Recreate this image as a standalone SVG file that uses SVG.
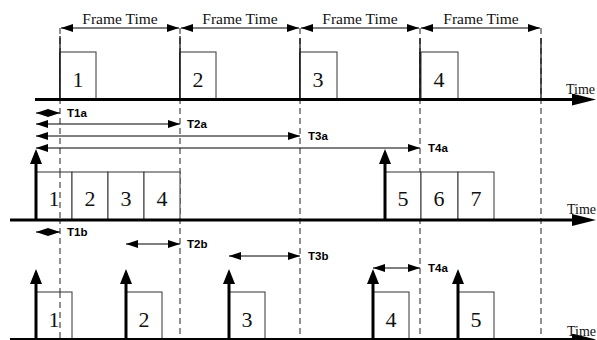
<svg xmlns="http://www.w3.org/2000/svg" width="597" height="340" viewBox="0 0 597 340">
  <defs>
    <!-- small filled arrowhead for interval dimension lines -->
    <marker id="dimHead" viewBox="0 0 12 8" refX="12" refY="4" markerWidth="12" markerHeight="8" markerUnits="userSpaceOnUse" orient="auto-start-reverse">
      <path d="M0,0 L12,4 L0,8 Z" fill="#000"/>
    </marker>
    <!-- large arrowhead for time axes -->
    <marker id="axisHead" viewBox="0 0 24 12" refX="2" refY="6" markerWidth="24" markerHeight="12" markerUnits="userSpaceOnUse" orient="auto">
      <path d="M0,0 L24,6 L0,12 Z" fill="#000"/>
    </marker>
    <!-- arrowhead for packet arrival pulses -->
    <marker id="pulseHead" viewBox="0 0 15 12" refX="9" refY="6" markerWidth="15" markerHeight="12" markerUnits="userSpaceOnUse" orient="auto">
      <path d="M0,0 L15,6 L0,12 Z" fill="#000"/>
    </marker>
  </defs>
  <style>
    .grid { stroke: #222; stroke-width: 1; stroke-dasharray: 6 4; fill: none; }
    .tick { stroke: #111; stroke-width: 1.3; fill: none; }
    .axis { stroke: #000; stroke-width: 3; fill: none; }
    .box { fill: #fff; stroke: #333; stroke-width: 1; }
    .dim { stroke: #000; stroke-width: 1; fill: none; }
    .pulse { stroke: #000; stroke-width: 3; fill: none; }
    .num { font-family: "Liberation Serif", "Times New Roman", serif; font-size: 22px; fill: #111; text-anchor: middle; }
    .frame { font-family: "Liberation Serif", "Times New Roman", serif; font-size: 15.5px; fill: #111; text-anchor: middle; }
    .time { font-family: "Liberation Serif", "Times New Roman", serif; font-size: 14px; fill: #111; }
    .lbl { font-family: "Liberation Sans", Arial, sans-serif; font-size: 11.5px; font-weight: bold; fill: #000; }
  </style>

  <rect x="0" y="0" width="597" height="340" fill="#fff"/>

  <!-- frame boundaries -->
  <g id="frame-grid">
    <line class="grid" x1="60" y1="28" x2="60" y2="340"/>
    <line class="grid" x1="180" y1="28" x2="180" y2="340"/>
    <line class="grid" x1="300" y1="28" x2="300" y2="340"/>
    <line class="grid" x1="420" y1="28" x2="420" y2="340"/>
    <line class="grid" x1="541" y1="28" x2="541" y2="340"/>
    <line class="tick" x1="60" y1="36" x2="60" y2="99"/>
    <line class="tick" x1="180" y1="36" x2="180" y2="99"/>
    <line class="tick" x1="300" y1="38" x2="300" y2="99"/>
    <line class="tick" x1="420" y1="38" x2="420" y2="99"/>
    <line class="tick" x1="541" y1="38" x2="541" y2="99"/>
  </g>

  <!-- frame time dimensions -->
  <g id="frame-times">
    <line class="dim" x1="61" y1="28" x2="179" y2="28" marker-start="url(#dimHead)" marker-end="url(#dimHead)"/>
    <line class="dim" x1="181" y1="28" x2="299" y2="28" marker-start="url(#dimHead)" marker-end="url(#dimHead)"/>
    <line class="dim" x1="301" y1="28" x2="419" y2="28" marker-start="url(#dimHead)" marker-end="url(#dimHead)"/>
    <line class="dim" x1="421" y1="28" x2="540" y2="28" marker-start="url(#dimHead)" marker-end="url(#dimHead)"/>
    <text class="frame" x="120" y="24">Frame Time</text>
    <text class="frame" x="240" y="24">Frame Time</text>
    <text class="frame" x="360" y="24">Frame Time</text>
    <text class="frame" x="481" y="24">Frame Time</text>
  </g>

  <!-- row 1: periodic frames -->
  <g id="row1">
    <g id="r1-f1"><rect class="box" x="60" y="52" width="36" height="47"/><text class="num" x="78" y="87">1</text></g>
    <g id="r1-f2"><rect class="box" x="180" y="52" width="36" height="47"/><text class="num" x="198" y="87">2</text></g>
    <g id="r1-f3"><rect class="box" x="300" y="52" width="37" height="47"/><text class="num" x="318" y="87">3</text></g>
    <g id="r1-f4"><rect class="box" x="421" y="52" width="37" height="47"/><text class="num" x="439" y="87">4</text></g>
    <line class="tick" x1="60" y1="52" x2="60" y2="99"/>
    <line class="tick" x1="180" y1="52" x2="180" y2="99"/>
    <line class="tick" x1="300" y1="52" x2="300" y2="99"/>
    <line class="tick" x1="420" y1="52" x2="420" y2="99"/>
    <line class="axis" x1="35" y1="99.5" x2="574" y2="99.5" marker-end="url(#axisHead)"/>
    <text class="time" x="566" y="94">Time</text>
  </g>

  <!-- delays T1a..T4a -->
  <g id="delays-a">
    <line class="dim" x1="36" y1="113" x2="60" y2="113" marker-start="url(#dimHead)" marker-end="url(#dimHead)"/>
    <line class="dim" x1="36" y1="124" x2="180" y2="124" marker-start="url(#dimHead)" marker-end="url(#dimHead)"/>
    <line class="dim" x1="36" y1="136" x2="300" y2="136" marker-start="url(#dimHead)" marker-end="url(#dimHead)"/>
    <line class="dim" x1="36" y1="148" x2="420" y2="148" marker-start="url(#dimHead)" marker-end="url(#dimHead)"/>
    <text class="lbl" x="67" y="117">T1a</text>
    <text class="lbl" x="187" y="128">T2a</text>
    <text class="lbl" x="308" y="140">T3a</text>
    <text class="lbl" x="428" y="152">T4a</text>
  </g>

  <!-- row 2: bursty arrivals -->
  <g id="row2">
    <g id="r2-f1"><rect class="box" x="36" y="172" width="36" height="48"/><text class="num" x="54" y="206">1</text></g>
    <g id="r2-f2"><rect class="box" x="72" y="172" width="36" height="48"/><text class="num" x="90" y="206">2</text></g>
    <g id="r2-f3"><rect class="box" x="108" y="172" width="36" height="48"/><text class="num" x="126" y="206">3</text></g>
    <g id="r2-f4"><rect class="box" x="144" y="172" width="36" height="48"/><text class="num" x="162" y="206">4</text></g>
    <g id="r2-f5"><rect class="box" x="385" y="172" width="36" height="48"/><text class="num" x="403" y="206">5</text></g>
    <g id="r2-f6"><rect class="box" x="421" y="172" width="37" height="48"/><text class="num" x="439" y="206">6</text></g>
    <g id="r2-f7"><rect class="box" x="458" y="172" width="36" height="48"/><text class="num" x="476" y="206">7</text></g>
    <line class="grid" x1="60" y1="172" x2="60" y2="220"/>
    <line class="pulse" x1="36" y1="220" x2="36" y2="155" marker-end="url(#pulseHead)"/>
    <line class="pulse" x1="385" y1="220" x2="385" y2="155" marker-end="url(#pulseHead)"/>
    <line class="axis" x1="10" y1="220" x2="574" y2="220" marker-end="url(#axisHead)"/>
    <text class="time" x="567" y="214">Time</text>
  </g>

  <!-- delays T1b..T4a -->
  <g id="delays-b">
    <line class="dim" x1="36" y1="232" x2="60" y2="232" marker-start="url(#dimHead)" marker-end="url(#dimHead)"/>
    <line class="dim" x1="126" y1="244" x2="180" y2="244" marker-start="url(#dimHead)" marker-end="url(#dimHead)"/>
    <line class="dim" x1="229" y1="256" x2="300" y2="256" marker-start="url(#dimHead)" marker-end="url(#dimHead)"/>
    <line class="dim" x1="373" y1="268" x2="420" y2="268" marker-start="url(#dimHead)" marker-end="url(#dimHead)"/>
    <text class="lbl" x="67" y="236">T1b</text>
    <text class="lbl" x="187" y="248">T2b</text>
    <text class="lbl" x="308" y="260">T3b</text>
    <text class="lbl" x="428" y="272">T4a</text>
  </g>

  <!-- row 3: jittered arrivals -->
  <g id="row3">
    <g id="r3-f1"><rect class="box" x="36" y="292" width="36" height="48"/><text class="num" x="54" y="327">1</text></g>
    <g id="r3-f2"><rect class="box" x="126" y="292" width="36" height="48"/><text class="num" x="144" y="327">2</text></g>
    <g id="r3-f3"><rect class="box" x="229" y="292" width="36" height="48"/><text class="num" x="247" y="327">3</text></g>
    <g id="r3-f4"><rect class="box" x="373" y="292" width="36" height="48"/><text class="num" x="391" y="327">4</text></g>
    <g id="r3-f5"><rect class="box" x="458" y="292" width="36" height="48"/><text class="num" x="476" y="327">5</text></g>
    <line class="grid" x1="60" y1="292" x2="60" y2="340"/>
    <line class="pulse" x1="36" y1="340" x2="36" y2="275" marker-end="url(#pulseHead)"/>
    <line class="pulse" x1="126" y1="340" x2="126" y2="275" marker-end="url(#pulseHead)"/>
    <line class="pulse" x1="229" y1="340" x2="229" y2="275" marker-end="url(#pulseHead)"/>
    <line class="pulse" x1="373" y1="340" x2="373" y2="275" marker-end="url(#pulseHead)"/>
    <line class="pulse" x1="458" y1="340" x2="458" y2="275" marker-end="url(#pulseHead)"/>
    <line class="axis" x1="10" y1="339.5" x2="574" y2="339.5" marker-end="url(#axisHead)"/>
    <text class="time" x="567" y="336">Time</text>
  </g>
</svg>
